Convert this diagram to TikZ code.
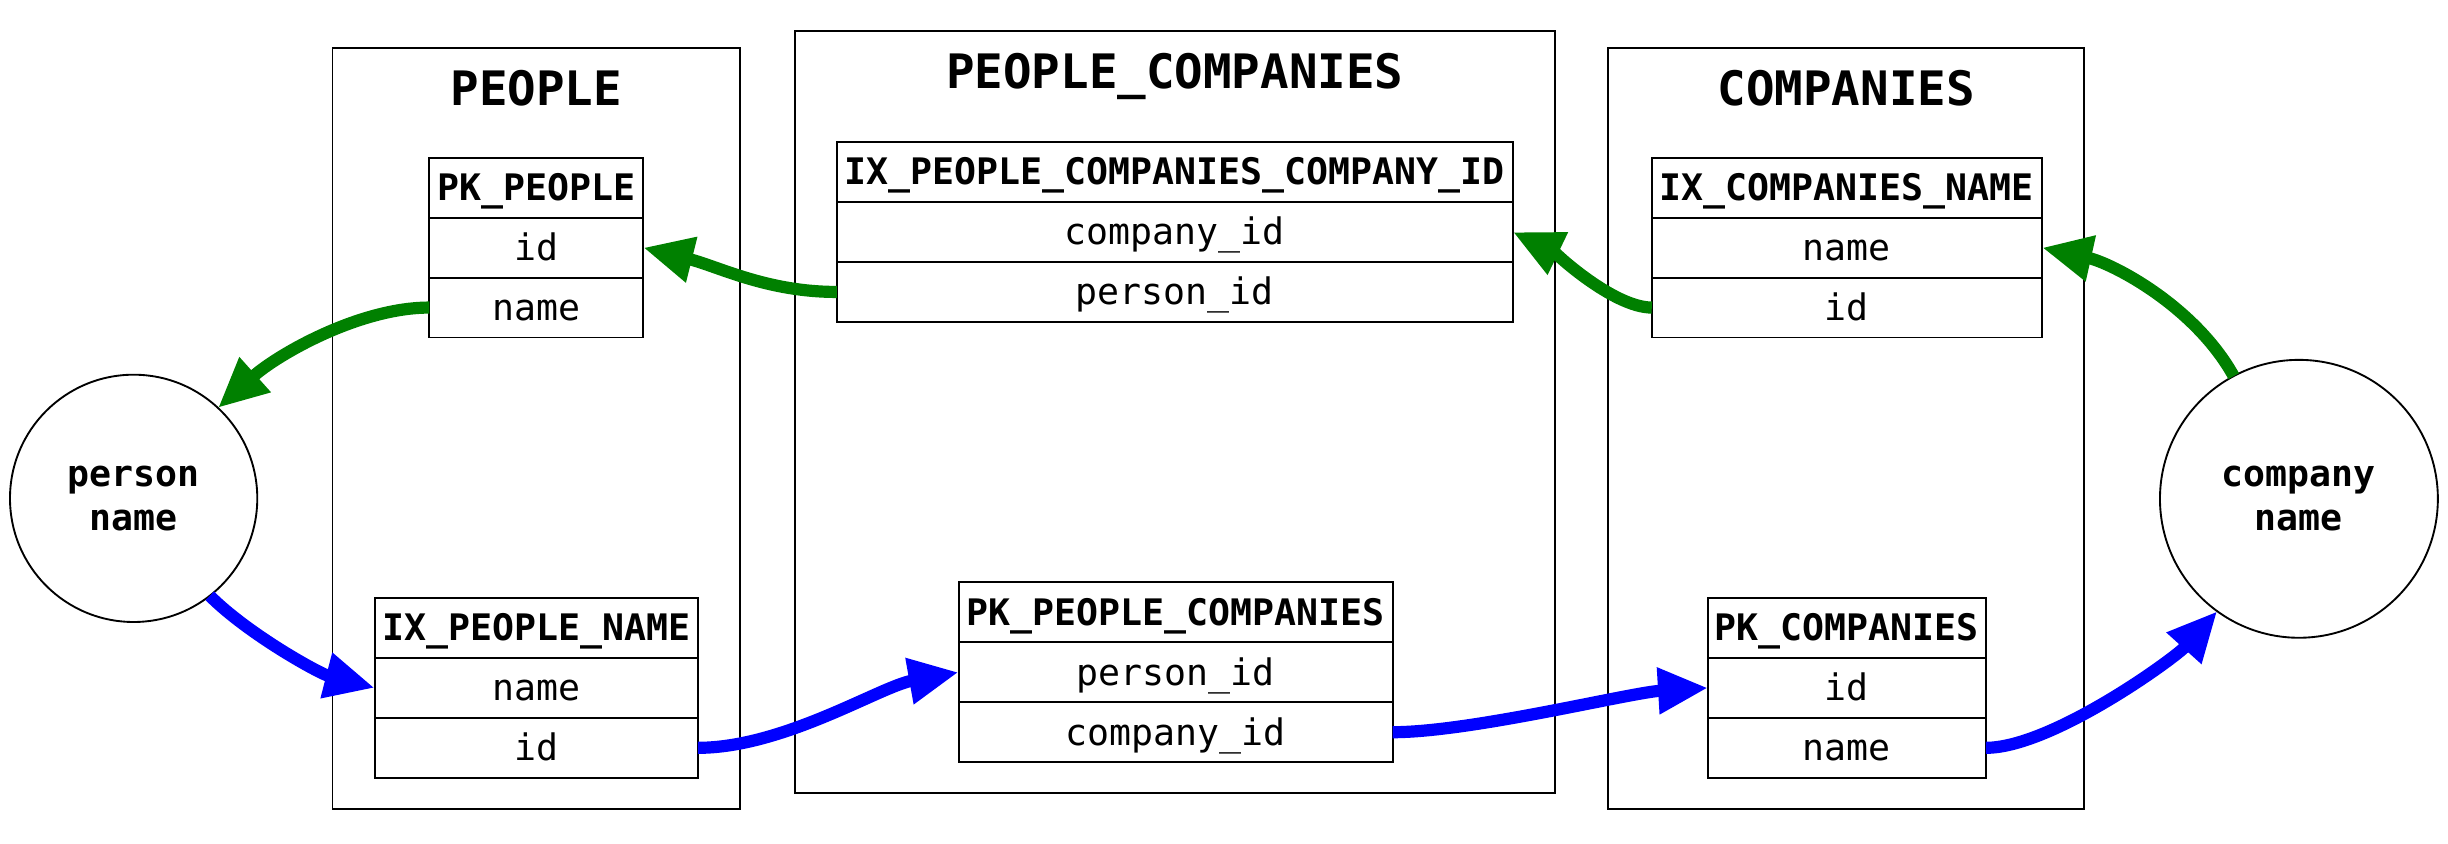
\documentclass[tikz,border=0pt]{standalone}
\usepackage{fontspec}
\setmonofont{DejaVu Sans Mono}
\usetikzlibrary{positioning,arrows.meta}
\definecolor{linkgreen}{HTML}{008000}
\definecolor{linkblue}{HTML}{0000FF}
\tikzset{
  cluster/.style={draw=black, line width=1.2pt, inner sep=0pt, outer sep=0pt},
  ctitle/.style={anchor=base, inner sep=0pt, font=\ttfamily\bfseries\fontsize{30.4}{36}\selectfont},
  tcell/.style={draw=black, line width=1.2pt, inner sep=0pt, outer sep=0pt, minimum height=38.4pt,
    text height=18pt, text depth=1.5pt, font=\ttfamily\fontsize{23.4}{28}\selectfont},
  thead/.style={tcell, font=\ttfamily\bfseries\fontsize{23.4}{28}\selectfont},
  valnode/.style={circle, draw=black, line width=1.2pt, inner sep=0pt, outer sep=0pt, align=center,
    font=\ttfamily\bfseries\fontsize{23.4}{28}\selectfont},
  glink/.style={draw=linkgreen, line width=7.8pt, -{Triangle[length=32pt,width=28pt]}},
  blink/.style={draw=linkblue, line width=7.8pt, -{Triangle[length=32pt,width=28pt]}}
}
\begin{document}
\begin{tikzpicture}[x=1pt, y=-1pt]
\useasboundingbox (0,0) rectangle (1568,540);
% clusters
\node[cluster, minimum width=261pt, minimum height=487pt] (people) at (343.5,274.5) {};
\node[cluster, minimum width=487pt, minimum height=488pt] (pc) at (752.5,264) {};
\node[cluster, minimum width=305pt, minimum height=487pt] (companies) at (1182.5,274.5) {};
\node[ctitle] (people-t) at (343.5,67.4) {PEOPLE};
\node[ctitle] (pc-t) at (752.5,56.4) {PEOPLE\_COMPANIES};
\node[ctitle] (companies-t) at (1182.5,67.4) {COMPANIES};
% PEOPLE
\node[thead, minimum width=137pt] (pkp) at (343.5,120.2) {PK\_PEOPLE};
\node[tcell, minimum width=137pt, below=0pt of pkp] (pkp-id) {id};
\node[tcell, minimum width=137pt, below=0pt of pkp-id] (pkp-name) {name};
\node[thead, minimum width=207pt] (ixpn) at (343.5,402.2) {IX\_PEOPLE\_NAME};
\node[tcell, minimum width=207pt, below=0pt of ixpn] (ixpn-name) {name};
\node[tcell, minimum width=207pt, below=0pt of ixpn-name] (ixpn-id) {id};
% PEOPLE_COMPANIES
\node[thead, minimum width=433pt] (ixpc) at (752.5,110.2) {IX\_PEOPLE\_COMPANIES\_COMPANY\_ID};
\node[tcell, minimum width=433pt, below=0pt of ixpc] (ixpc-cid) {company\_id};
\node[tcell, minimum width=433pt, below=0pt of ixpc-cid] (ixpc-pid) {person\_id};
\node[thead, minimum width=278pt] (pkpc) at (753,392.2) {PK\_PEOPLE\_COMPANIES};
\node[tcell, minimum width=278pt, below=0pt of pkpc] (pkpc-pid) {person\_id};
\node[tcell, minimum width=278pt, below=0pt of pkpc-pid] (pkpc-cid) {company\_id};
% COMPANIES
\node[thead, minimum width=250pt] (ixcn) at (1183,120.2) {IX\_COMPANIES\_NAME};
\node[tcell, minimum width=250pt, below=0pt of ixcn] (ixcn-name) {name};
\node[tcell, minimum width=250pt, below=0pt of ixcn-name] (ixcn-id) {id};
\node[thead, minimum width=178pt] (pkc) at (1183,402.2) {PK\_COMPANIES};
\node[tcell, minimum width=178pt, below=0pt of pkc] (pkc-id) {id};
\node[tcell, minimum width=178pt, below=0pt of pkc-id] (pkc-name) {name};
% values
\node[valnode, minimum size=158.4pt] (person) at (85.6,319.2) {person\\name};
\node[valnode, minimum size=178pt] (company) at (1472.5,319.5) {company\\name};
% green links
\draw[glink] (pkp-name.west) .. controls +(-45,0) and +(38,-34) .. (person.47);
\draw[glink] (ixpc-pid.west) .. controls +(-45,0) and +(48,12) .. (pkp-id.east);
\draw[glink] (ixcn-id.west) .. controls +(-25,0) and +(25,12) .. (ixpc-cid.east);
\draw[glink] (company.118) .. controls +(-25,-45) and +(45,10) .. (ixcn-name.east);
% blue links
\draw[blink] (person.-52) .. controls +(25,25) and +(-35,-9) .. (ixpn-name.west);
\draw[blink] (ixpn-id.east) .. controls +(55,0) and +(-50,9) .. (pkpc-pid.west);
\draw[blink] (pkpc-cid.east) .. controls +(50,0) and +(-50,3) .. (pkc-id.west);
\draw[blink] (pkc-name.east) .. controls +(42,0) and +(-27,30) .. (company.234);
\end{tikzpicture}
\end{document}
